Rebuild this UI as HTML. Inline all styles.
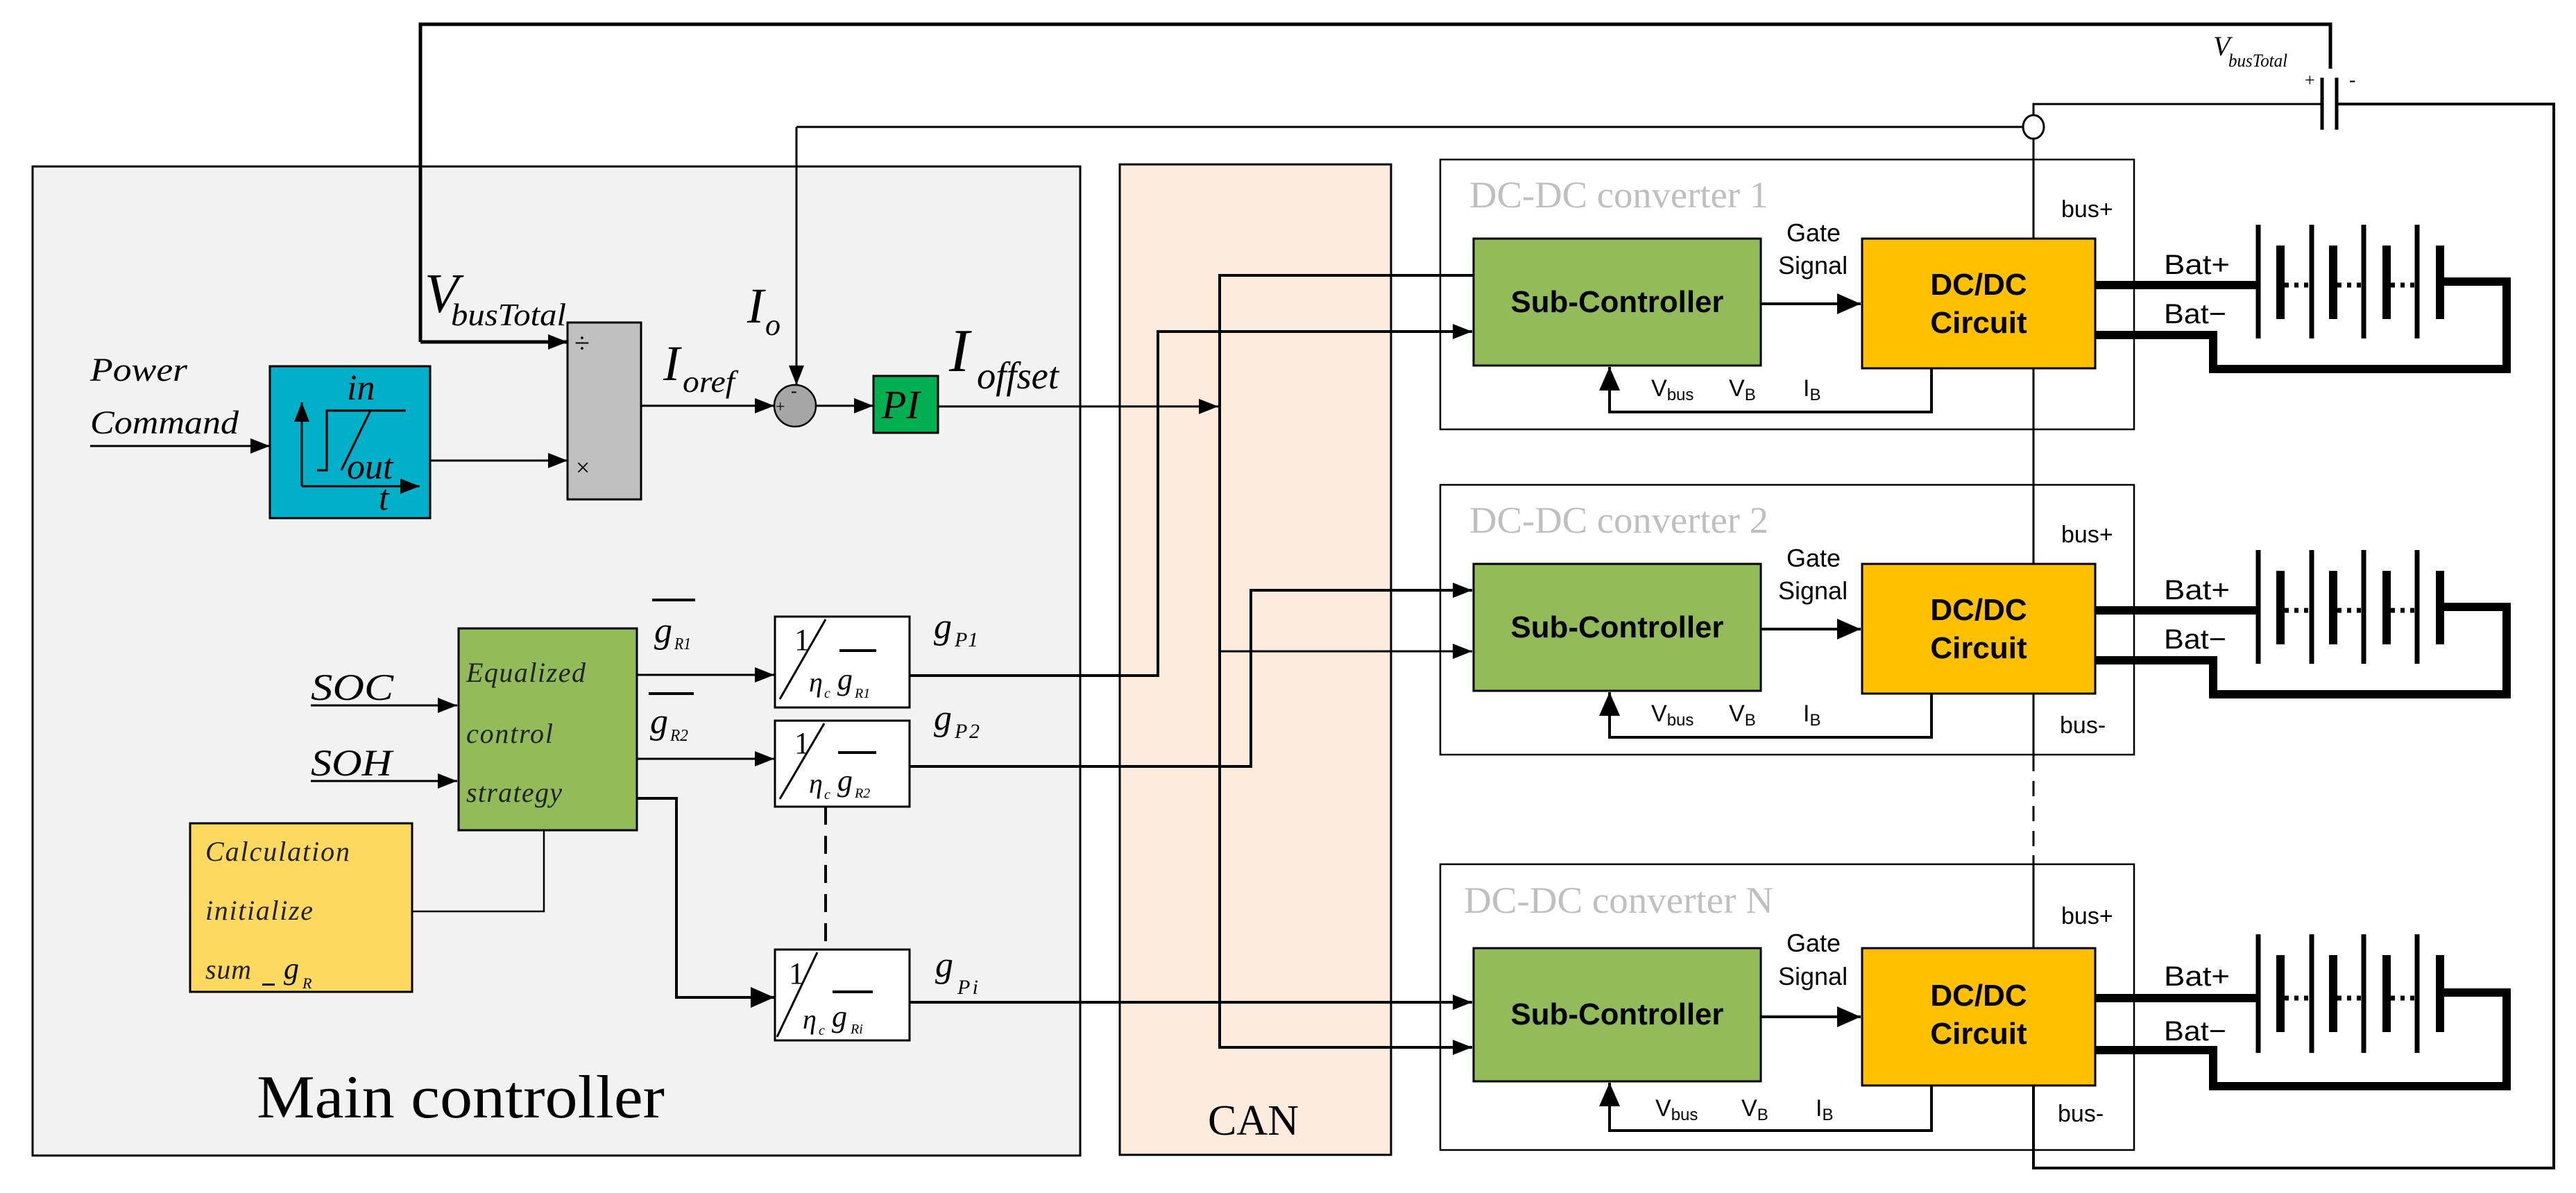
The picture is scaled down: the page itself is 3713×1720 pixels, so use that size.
<!DOCTYPE html>
<html><head><meta charset="utf-8"><style>
html,body{margin:0;padding:0;background:#fff}
svg{display:block}
.s{font-family:"Liberation Serif",serif}
.i{font-family:"Liberation Serif",serif;font-style:italic}
.a{font-family:"Liberation Sans",sans-serif}
</style></head><body>
<svg width="3713" height="1720" viewBox="0 0 3713 1720" xmlns="http://www.w3.org/2000/svg">
<defs>
<marker id="ar" markerUnits="userSpaceOnUse" markerWidth="30" markerHeight="22" refX="28" refY="11" orient="auto"><path d="M0,0 L28,11 L0,22 z" fill="#000"/></marker>
<marker id="ab" markerUnits="userSpaceOnUse" markerWidth="36" markerHeight="30" refX="34" refY="15" orient="auto"><path d="M0,0 L34,15 L0,30 z" fill="#000"/></marker>
</defs>
<!-- main controller -->
<rect x="47" y="240" width="1510" height="1426" fill="#f2f2f2" stroke="#000" stroke-width="3"/>
<!-- CAN -->
<rect x="1614" y="237" width="391" height="1428" fill="#fdebdd" stroke="#000" stroke-width="3"/>
<!-- converter boxes -->
<rect x="2076" y="230" width="1000" height="389" fill="#fff" stroke="#000" stroke-width="2.5"/>
<rect x="2076" y="699" width="1000" height="389" fill="#fff" stroke="#000" stroke-width="2.5"/>
<rect x="2076" y="1246" width="1000" height="412" fill="#fff" stroke="#000" stroke-width="2.5"/>

<g fill="none" stroke="#000" stroke-width="3">
<path d="M606,493 V35 H3359 V99" stroke-width="5"/>
<path d="M606,493 H818" stroke-width="5" marker-end="url(#ar)"/>
<path d="M1148,183 H2916"/>
<path d="M1148,183 V555" marker-end="url(#ar)"/>
<path d="M130,643 H389" marker-end="url(#ar)"/>
<path d="M620,664 H818" marker-end="url(#ar)"/>
<path d="M924,585 H1116" marker-end="url(#ar)"/>
<path d="M1176,585 H1259" marker-end="url(#ar)"/>
<path d="M1352,586 H1756" marker-end="url(#ar)"/>
<path d="M2124,397 H1758 V1510 H2122" stroke-width="4" marker-end="url(#ar)"/>
<path d="M1758,939 H2122" marker-end="url(#ar)"/>
<path d="M1311,974 H1669 V478 H2122" stroke-width="4" marker-end="url(#ar)"/>
<path d="M1311,1105 H1803 V851 H2122" stroke-width="4" marker-end="url(#ar)"/>
<path d="M1311,1445 H2122" stroke-width="4" marker-end="url(#ar)"/>
<path d="M448,1017 H659" marker-end="url(#ar)"/>
<path d="M448,1126 H659" marker-end="url(#ar)"/>
<path d="M918,973 H1116" marker-end="url(#ar)"/>
<path d="M918,1094 H1116" marker-end="url(#ar)"/>
<path d="M918,1151 H975 V1438 H1116" stroke-width="4" marker-end="url(#ab)"/>
<path d="M594,1314 H784 V1197" stroke-width="2.5"/>
<path d="M1190,1163 V1369" stroke-width="4" stroke-dasharray="26,16"/>
<!-- bus -->
<path d="M3347,150 H2931 V344"/>
<path d="M2931,531 V813"/>
<path d="M2931,1001 V1090"/>
<path d="M2931,1090 V1233" stroke-dasharray="22,14"/>
<path d="M2931,1233 V1367"/>
<path d="M2931,1565 V1684 H3681 V150 H3368" stroke-width="4"/>
<ellipse cx="2931" cy="183" rx="15" ry="17" fill="#fff"/>
<path d="M3347,112 V187 M3368,112 V187" stroke-width="5"/>
</g>

<!-- blue ramp -->
<rect x="389" y="528" width="231" height="219" fill="#00afc8" stroke="#000" stroke-width="3"/>
<g stroke="#000" stroke-width="3" fill="none">
<path d="M435,701 V580" marker-end="url(#ar)"/>
<path d="M435,701 H605" marker-end="url(#ar)"/>
<path d="M457,678 H471 V592 H585 M534,592 L492,678"/>
</g>
<text class="i" x="500" y="576" font-size="52">in</text>
<text class="i" x="500" y="690" font-size="52">out</text>
<text class="i" x="546" y="735" font-size="52">t</text>
<!-- divide box -->
<rect x="818" y="465" width="106" height="255" fill="#c0c0c0" stroke="#000" stroke-width="3"/>
<text class="s" x="828" y="508" font-size="40">÷</text>
<text class="s" x="830" y="686" font-size="36">×</text>
<!-- sum -->
<circle cx="1146" cy="585" r="30" fill="#a6a6a6" stroke="#000" stroke-width="2.5"/>
<text class="s" x="1140" y="572" font-size="26">-</text>
<text class="s" x="1118" y="594" font-size="24">+</text>
<!-- PI -->
<rect x="1259" y="542" width="93" height="82" fill="#00b050" stroke="#000" stroke-width="3"/>
<text class="i" x="1271" y="603" font-size="58">PI</text>

<!-- left labels -->
<text class="i" x="130" y="549" font-size="48" textLength="140" lengthAdjust="spacingAndGlyphs">Power</text>
<text class="i" x="130" y="625" font-size="48" textLength="214" lengthAdjust="spacingAndGlyphs">Command</text>
<text class="i" x="612" y="450" font-size="80">V</text>
<text class="i" x="650" y="469" font-size="46" textLength="166" lengthAdjust="spacingAndGlyphs">busTotal</text>
<text class="i" x="1077" y="465" font-size="72">I</text>
<text class="i" x="1103" y="483" font-size="44">o</text>
<text class="i" x="956" y="548" font-size="72">I</text>
<text class="i" x="984" y="565" font-size="44" textLength="75" lengthAdjust="spacingAndGlyphs">oref</text>
<text class="i" x="1368" y="535" font-size="88">I</text>
<text class="i" x="1408" y="560" font-size="55" textLength="118" lengthAdjust="spacingAndGlyphs">offset</text>
<text class="i" x="448" y="1009" font-size="54" textLength="119" lengthAdjust="spacingAndGlyphs">SOC</text>
<text class="i" x="448" y="1118" font-size="54" textLength="117" lengthAdjust="spacingAndGlyphs">SOH</text>

<!-- equalized -->
<rect x="661" y="906" width="257" height="291" fill="#92bc5a" stroke="#000" stroke-width="3"/>
<text class="i" x="672" y="983" font-size="40" fill="#222" textLength="172" lengthAdjust="spacing">Equalized</text>
<text class="i" x="672" y="1071" font-size="40" fill="#222" textLength="125" lengthAdjust="spacing">control</text>
<text class="i" x="672" y="1156" font-size="40" fill="#222" textLength="138" lengthAdjust="spacing">strategy</text>
<!-- calc -->
<rect x="274" y="1187" width="320" height="243" fill="#fed95f" stroke="#000" stroke-width="3"/>
<text class="i" x="296" y="1241" font-size="40" fill="#222" textLength="208" lengthAdjust="spacing">Calculation</text>
<text class="i" x="296" y="1326" font-size="40" fill="#222" textLength="155" lengthAdjust="spacing">initialize</text>
<text class="i" x="296" y="1411" font-size="40" fill="#222" textLength="66" lengthAdjust="spacing">sum</text>
<rect x="378" y="1418" width="18" height="3" fill="#000"/>
<text class="i" x="409" y="1411" font-size="44">g</text>
<text class="i" x="436" y="1425" font-size="22">R</text>

<!-- gR labels -->
<rect x="940" y="863" width="62" height="4" fill="#000"/>
<text class="i" x="943" y="926" font-size="52">g</text>
<text class="i" x="972" y="936" font-size="24" textLength="24" lengthAdjust="spacingAndGlyphs">R1</text>
<rect x="935" y="998" width="65" height="4" fill="#000"/>
<text class="i" x="937" y="1057" font-size="52">g</text>
<text class="i" x="966" y="1068" font-size="24" textLength="26" lengthAdjust="spacingAndGlyphs">R2</text>
<text class="i" x="1346" y="920" font-size="52">g</text>
<text class="i" x="1376" y="932" font-size="30" textLength="34" lengthAdjust="spacing">P1</text>
<text class="i" x="1346" y="1052" font-size="52">g</text>
<text class="i" x="1376" y="1064" font-size="30" textLength="36" lengthAdjust="spacing">P2</text>
<text class="i" x="1348" y="1408" font-size="52">g</text>
<text class="i" x="1380" y="1433" font-size="30" textLength="30" lengthAdjust="spacing">Pi</text>

<!-- fraction boxes -->
<g>
<rect x="1117" y="889" width="194" height="131" fill="#fff" stroke="#000" stroke-width="3"/>
<text class="s" x="1145" y="937" font-size="44">1</text>
<path d="M1190,893 L1124,1008" stroke="#000" stroke-width="3"/>
<rect x="1210" y="936" width="53" height="4" fill="#000"/>
<text class="i" x="1166" y="997" font-size="40">η</text>
<text class="i" x="1188" y="1006" font-size="20">c</text>
<text class="i" x="1207" y="994" font-size="44">g</text>
<text class="i" x="1232" y="1006" font-size="20">R1</text>
</g>
<g>
<rect x="1117" y="1039" width="194" height="124" fill="#fff" stroke="#000" stroke-width="3"/>
<text class="s" x="1145" y="1086" font-size="44">1</text>
<path d="M1188,1043 L1124,1152" stroke="#000" stroke-width="3"/>
<rect x="1208" y="1083" width="55" height="4" fill="#000"/>
<text class="i" x="1166" y="1143" font-size="40">η</text>
<text class="i" x="1188" y="1152" font-size="20">c</text>
<text class="i" x="1207" y="1140" font-size="44">g</text>
<text class="i" x="1232" y="1150" font-size="20">R2</text>
</g>
<g>
<rect x="1117" y="1369" width="194" height="131" fill="#fff" stroke="#000" stroke-width="3"/>
<text class="s" x="1137" y="1418" font-size="44">1</text>
<path d="M1178,1373 L1120,1495" stroke="#000" stroke-width="3"/>
<rect x="1200" y="1428" width="58" height="4" fill="#000"/>
<text class="i" x="1157" y="1483" font-size="40">η</text>
<text class="i" x="1180" y="1492" font-size="20">c</text>
<text class="i" x="1199" y="1480" font-size="44">g</text>
<text class="i" x="1226" y="1490" font-size="20">Ri</text>
</g>

<text class="s" x="370" y="1611" font-size="88" textLength="588" lengthAdjust="spacingAndGlyphs">Main controller</text>
<text class="s" x="1741" y="1636" font-size="62" textLength="131" lengthAdjust="spacingAndGlyphs">CAN</text>

<!-- top right -->
<text class="i" x="3190" y="80" font-size="40">V</text>
<text class="i" x="3212" y="96" font-size="26" textLength="85" lengthAdjust="spacingAndGlyphs">busTotal</text>
<text class="s" x="3322" y="124" font-size="26">+</text>
<text class="s" x="3386" y="124" font-size="28">-</text>

<!-- converter 1 -->
<g id="c1">
<text class="s" x="2118" y="299" font-size="54" fill="#bfbfbf" textLength="431" lengthAdjust="spacingAndGlyphs">DC-DC converter 1</text>
<rect x="2124" y="344" width="414" height="183" fill="#92bc5a" stroke="#000" stroke-width="3"/>
<text class="a" x="2331" y="450" font-size="44" font-weight="bold" text-anchor="middle" textLength="307" lengthAdjust="spacingAndGlyphs">Sub-Controller</text>
<rect x="2684" y="344" width="336" height="187" fill="#ffc000" stroke="#000" stroke-width="3"/>
<text class="a" x="2852" y="425" font-size="44" font-weight="bold" text-anchor="middle">DC/DC</text>
<text class="a" x="2852" y="480" font-size="44" font-weight="bold" text-anchor="middle">Circuit</text>
<text class="a" x="2575" y="348" font-size="36">Gate</text>
<text class="a" x="2563" y="395" font-size="36">Signal</text>
<text class="a" x="2971" y="313" font-size="34">bus+</text>
<path d="M2538,438 H2682" stroke="#000" stroke-width="4" fill="none" marker-end="url(#ab)"/>
<path d="M2784,531 V594 H2320 V529" stroke="#000" stroke-width="4" fill="none" marker-end="url(#ab)"/>
<text class="a" x="2380" y="571" font-size="34">V<tspan font-size="24" dy="6">bus</tspan></text>
<text class="a" x="2492" y="571" font-size="34">V<tspan font-size="24" dy="6">B</tspan></text>
<text class="a" x="2599" y="571" font-size="34">I<tspan font-size="24" dy="6">B</tspan></text>
<text class="a" x="3119" y="395" font-size="40" textLength="95" lengthAdjust="spacingAndGlyphs">Bat+</text>
<text class="a" x="3119" y="466" font-size="40" textLength="90" lengthAdjust="spacingAndGlyphs">Bat−</text>
<g stroke="#000" fill="none">
<path d="M3020,411 H3252 M3020,483 H3190 V532 H3613 V406 H3521" stroke-width="12"/>
<path d="M3255,324 V488 M3332,324 V488 M3407,324 V488 M3484,324 V488" stroke-width="7"/>
<path d="M3287,354 V460 M3363,354 V460 M3440,354 V460 M3517,354 V460" stroke-width="12"/>
<path d="M3293,411 H3330 M3369,411 H3405 M3446,411 H3482" stroke-width="7" stroke-dasharray="6,8"/>
</g>
</g>
<!-- converter 2 -->
<g transform="translate(0,469)">
<text class="s" x="2118" y="299" font-size="54" fill="#bfbfbf" textLength="431" lengthAdjust="spacingAndGlyphs">DC-DC converter 2</text>
<rect x="2124" y="344" width="414" height="183" fill="#92bc5a" stroke="#000" stroke-width="3"/>
<text class="a" x="2331" y="450" font-size="44" font-weight="bold" text-anchor="middle" textLength="307" lengthAdjust="spacingAndGlyphs">Sub-Controller</text>
<rect x="2684" y="344" width="336" height="187" fill="#ffc000" stroke="#000" stroke-width="3"/>
<text class="a" x="2852" y="425" font-size="44" font-weight="bold" text-anchor="middle">DC/DC</text>
<text class="a" x="2852" y="480" font-size="44" font-weight="bold" text-anchor="middle">Circuit</text>
<text class="a" x="2575" y="348" font-size="36">Gate</text>
<text class="a" x="2563" y="395" font-size="36">Signal</text>
<text class="a" x="2971" y="313" font-size="34">bus+</text>
<text class="a" x="2969" y="588" font-size="34">bus-</text>
<path d="M2538,438 H2682" stroke="#000" stroke-width="4" fill="none" marker-end="url(#ab)"/>
<path d="M2784,531 V594 H2320 V529" stroke="#000" stroke-width="4" fill="none" marker-end="url(#ab)"/>
<text class="a" x="2380" y="571" font-size="34">V<tspan font-size="24" dy="6">bus</tspan></text>
<text class="a" x="2492" y="571" font-size="34">V<tspan font-size="24" dy="6">B</tspan></text>
<text class="a" x="2599" y="571" font-size="34">I<tspan font-size="24" dy="6">B</tspan></text>
<text class="a" x="3119" y="395" font-size="40" textLength="95" lengthAdjust="spacingAndGlyphs">Bat+</text>
<text class="a" x="3119" y="466" font-size="40" textLength="90" lengthAdjust="spacingAndGlyphs">Bat−</text>
<g stroke="#000" fill="none">
<path d="M3020,411 H3252 M3020,483 H3190 V532 H3613 V406 H3521" stroke-width="12"/>
<path d="M3255,324 V488 M3332,324 V488 M3407,324 V488 M3484,324 V488" stroke-width="7"/>
<path d="M3287,354 V460 M3363,354 V460 M3440,354 V460 M3517,354 V460" stroke-width="12"/>
<path d="M3293,411 H3330 M3369,411 H3405 M3446,411 H3482" stroke-width="7" stroke-dasharray="6,8"/>
</g>
</g>
<!-- converter N -->
<g>
<text class="s" x="2110" y="1316" font-size="54" fill="#bfbfbf" textLength="446" lengthAdjust="spacingAndGlyphs">DC-DC converter N</text>
<rect x="2124" y="1367" width="414" height="192" fill="#92bc5a" stroke="#000" stroke-width="3"/>
<text class="a" x="2331" y="1477" font-size="44" font-weight="bold" text-anchor="middle" textLength="307" lengthAdjust="spacingAndGlyphs">Sub-Controller</text>
<rect x="2684" y="1367" width="336" height="198" fill="#ffc000" stroke="#000" stroke-width="3"/>
<text class="a" x="2852" y="1450" font-size="44" font-weight="bold" text-anchor="middle">DC/DC</text>
<text class="a" x="2852" y="1505" font-size="44" font-weight="bold" text-anchor="middle">Circuit</text>
<text class="a" x="2575" y="1372" font-size="36">Gate</text>
<text class="a" x="2563" y="1420" font-size="36">Signal</text>
<text class="a" x="2971" y="1332" font-size="34">bus+</text>
<text class="a" x="2966" y="1617" font-size="34">bus-</text>
<path d="M2538,1466 H2682" stroke="#000" stroke-width="4" fill="none" marker-end="url(#ab)"/>
<path d="M2784,1565 V1630 H2320 V1561" stroke="#000" stroke-width="4" fill="none" marker-end="url(#ab)"/>
<text class="a" x="2386" y="1609" font-size="34">V<tspan font-size="24" dy="6">bus</tspan></text>
<text class="a" x="2510" y="1609" font-size="34">V<tspan font-size="24" dy="6">B</tspan></text>
<text class="a" x="2617" y="1609" font-size="34">I<tspan font-size="24" dy="6">B</tspan></text>
<text class="a" x="3119" y="1421" font-size="40" textLength="95" lengthAdjust="spacingAndGlyphs">Bat+</text>
<text class="a" x="3119" y="1500" font-size="40" textLength="90" lengthAdjust="spacingAndGlyphs">Bat−</text>
<g stroke="#000" fill="none">
<path d="M3020,1439 H3252 M3020,1514 H3190 V1566 H3613 V1431 H3521" stroke-width="12"/>
<path d="M3255,1347 V1518 M3332,1347 V1518 M3407,1347 V1518 M3484,1347 V1518" stroke-width="7"/>
<path d="M3287,1377 V1488 M3363,1377 V1488 M3440,1377 V1488 M3517,1377 V1488" stroke-width="12"/>
<path d="M3293,1439 H3330 M3369,1439 H3405 M3446,1439 H3482" stroke-width="7" stroke-dasharray="6,8"/>
</g>
</g>
</svg>
</body></html>
